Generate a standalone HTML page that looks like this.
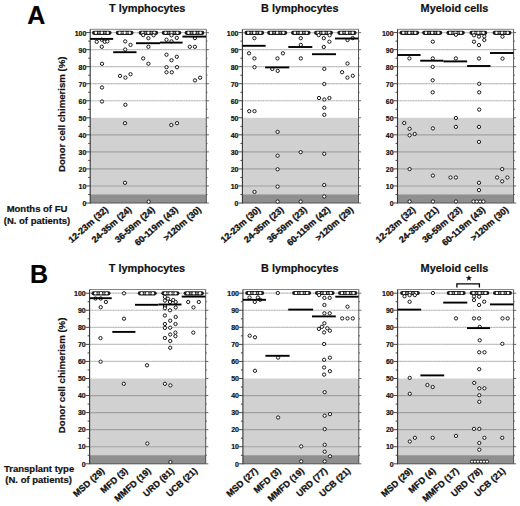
<!DOCTYPE html>
<html><head><meta charset="utf-8"><style>
html,body{margin:0;padding:0;background:#fff;}
svg{display:block;}
text{font-family:"Liberation Sans",sans-serif;font-weight:bold;fill:#111;stroke:#111;stroke-width:0.2px;}
.tk{font-size:7.0px;text-anchor:end;}
.ti{font-size:10.9px;}
.big{font-size:25px;fill:#000;}
.yl{font-size:9.5px;text-anchor:middle;}
.yr{font-size:9.65px;text-anchor:middle;}
.xl{font-size:9.0px;text-anchor:end;stroke-width:0.3px;}
.star{font-size:11px;text-anchor:middle;}
circle{fill:#fff;stroke:#1a1a1a;stroke-width:1.0;}
.ws{stroke:none;fill:#fff;}
.gs{stroke:none;fill:#a0a0a0;}
</style></head><body>
<svg width="520" height="506" viewBox="0 0 520 506">
<rect x="90.2" y="117.8" width="116.1" height="85.2" fill="#d1d1d1"/>
<rect x="90.2" y="194.48" width="116.1" height="8.52" fill="#8f8f8f"/>
<line x1="90.2" x2="206.3" y1="185.96" y2="185.96" stroke="#a2a2a2" stroke-width="1.15"/>
<line x1="90.2" x2="206.3" y1="168.92" y2="168.92" stroke="#a2a2a2" stroke-width="1.15"/>
<line x1="90.2" x2="206.3" y1="151.88" y2="151.88" stroke="#a2a2a2" stroke-width="1.15"/>
<line x1="90.2" x2="206.3" y1="134.84" y2="134.84" stroke="#a2a2a2" stroke-width="1.15"/>
<line x1="90.2" x2="206.3" y1="100.76" y2="100.76" stroke="#cbcbcb" stroke-width="1.2"/>
<line x1="90.2" x2="206.3" y1="100.76" y2="100.76" stroke="#b4b4b4" stroke-width="1" stroke-dasharray="0.8 1.8"/>
<line x1="90.2" x2="206.3" y1="83.72" y2="83.72" stroke="#cbcbcb" stroke-width="1.2"/>
<line x1="90.2" x2="206.3" y1="83.72" y2="83.72" stroke="#b4b4b4" stroke-width="1" stroke-dasharray="0.8 1.8"/>
<line x1="90.2" x2="206.3" y1="66.68" y2="66.68" stroke="#cbcbcb" stroke-width="1.2"/>
<line x1="90.2" x2="206.3" y1="66.68" y2="66.68" stroke="#b4b4b4" stroke-width="1" stroke-dasharray="0.8 1.8"/>
<line x1="90.2" x2="206.3" y1="49.64" y2="49.64" stroke="#cbcbcb" stroke-width="1.2"/>
<line x1="90.2" x2="206.3" y1="49.64" y2="49.64" stroke="#b4b4b4" stroke-width="1" stroke-dasharray="0.8 1.8"/>
<line x1="90.2" x2="206.3" y1="32.6" y2="32.6" stroke="#cbcbcb" stroke-width="1.2"/>
<line x1="90.2" x2="206.3" y1="32.6" y2="32.6" stroke="#b4b4b4" stroke-width="1" stroke-dasharray="0.8 1.8"/>
<line x1="90.2" x2="206.3" y1="29.3" y2="29.3" stroke="#666" stroke-width="0.8"/>
<line x1="206.3" x2="206.3" y1="29.3" y2="203" stroke="#444" stroke-width="0.9"/>
<line x1="90.2" x2="206.3" y1="203" y2="203" stroke="#555" stroke-width="1"/>
<line x1="90.2" x2="90.2" y1="29.3" y2="203.5" stroke="#333" stroke-width="1.1"/>
<line x1="86.2" x2="90.2" y1="203" y2="203" stroke="#333" stroke-width="0.9"/>
<line x1="206.3" x2="208.9" y1="203" y2="203" stroke="#444" stroke-width="0.8"/>
<text transform="translate(86.3,206.2) scale(1,1.09)" class="tk">0</text>
<line x1="88.2" x2="90.2" y1="194.48" y2="194.48" stroke="#333" stroke-width="0.9"/>
<line x1="206.3" x2="207.5" y1="194.48" y2="194.48" stroke="#444" stroke-width="0.8"/>
<line x1="86.2" x2="90.2" y1="185.96" y2="185.96" stroke="#333" stroke-width="0.9"/>
<line x1="206.3" x2="208.9" y1="185.96" y2="185.96" stroke="#444" stroke-width="0.8"/>
<text transform="translate(86.3,189.16) scale(1,1.09)" class="tk">10</text>
<line x1="88.2" x2="90.2" y1="177.44" y2="177.44" stroke="#333" stroke-width="0.9"/>
<line x1="206.3" x2="207.5" y1="177.44" y2="177.44" stroke="#444" stroke-width="0.8"/>
<line x1="86.2" x2="90.2" y1="168.92" y2="168.92" stroke="#333" stroke-width="0.9"/>
<line x1="206.3" x2="208.9" y1="168.92" y2="168.92" stroke="#444" stroke-width="0.8"/>
<text transform="translate(86.3,172.12) scale(1,1.09)" class="tk">20</text>
<line x1="88.2" x2="90.2" y1="160.4" y2="160.4" stroke="#333" stroke-width="0.9"/>
<line x1="206.3" x2="207.5" y1="160.4" y2="160.4" stroke="#444" stroke-width="0.8"/>
<line x1="86.2" x2="90.2" y1="151.88" y2="151.88" stroke="#333" stroke-width="0.9"/>
<line x1="206.3" x2="208.9" y1="151.88" y2="151.88" stroke="#444" stroke-width="0.8"/>
<text transform="translate(86.3,155.08) scale(1,1.09)" class="tk">30</text>
<line x1="88.2" x2="90.2" y1="143.36" y2="143.36" stroke="#333" stroke-width="0.9"/>
<line x1="206.3" x2="207.5" y1="143.36" y2="143.36" stroke="#444" stroke-width="0.8"/>
<line x1="86.2" x2="90.2" y1="134.84" y2="134.84" stroke="#333" stroke-width="0.9"/>
<line x1="206.3" x2="208.9" y1="134.84" y2="134.84" stroke="#444" stroke-width="0.8"/>
<text transform="translate(86.3,138.04) scale(1,1.09)" class="tk">40</text>
<line x1="88.2" x2="90.2" y1="126.32" y2="126.32" stroke="#333" stroke-width="0.9"/>
<line x1="206.3" x2="207.5" y1="126.32" y2="126.32" stroke="#444" stroke-width="0.8"/>
<line x1="86.2" x2="90.2" y1="117.8" y2="117.8" stroke="#333" stroke-width="0.9"/>
<line x1="206.3" x2="208.9" y1="117.8" y2="117.8" stroke="#444" stroke-width="0.8"/>
<text transform="translate(86.3,121) scale(1,1.09)" class="tk">50</text>
<line x1="88.2" x2="90.2" y1="109.28" y2="109.28" stroke="#333" stroke-width="0.9"/>
<line x1="206.3" x2="207.5" y1="109.28" y2="109.28" stroke="#444" stroke-width="0.8"/>
<line x1="86.2" x2="90.2" y1="100.76" y2="100.76" stroke="#333" stroke-width="0.9"/>
<line x1="206.3" x2="208.9" y1="100.76" y2="100.76" stroke="#444" stroke-width="0.8"/>
<text transform="translate(86.3,103.96) scale(1,1.09)" class="tk">60</text>
<line x1="88.2" x2="90.2" y1="92.24" y2="92.24" stroke="#333" stroke-width="0.9"/>
<line x1="206.3" x2="207.5" y1="92.24" y2="92.24" stroke="#444" stroke-width="0.8"/>
<line x1="86.2" x2="90.2" y1="83.72" y2="83.72" stroke="#333" stroke-width="0.9"/>
<line x1="206.3" x2="208.9" y1="83.72" y2="83.72" stroke="#444" stroke-width="0.8"/>
<text transform="translate(86.3,86.92) scale(1,1.09)" class="tk">70</text>
<line x1="88.2" x2="90.2" y1="75.2" y2="75.2" stroke="#333" stroke-width="0.9"/>
<line x1="206.3" x2="207.5" y1="75.2" y2="75.2" stroke="#444" stroke-width="0.8"/>
<line x1="86.2" x2="90.2" y1="66.68" y2="66.68" stroke="#333" stroke-width="0.9"/>
<line x1="206.3" x2="208.9" y1="66.68" y2="66.68" stroke="#444" stroke-width="0.8"/>
<text transform="translate(86.3,69.88) scale(1,1.09)" class="tk">80</text>
<line x1="88.2" x2="90.2" y1="58.16" y2="58.16" stroke="#333" stroke-width="0.9"/>
<line x1="206.3" x2="207.5" y1="58.16" y2="58.16" stroke="#444" stroke-width="0.8"/>
<line x1="86.2" x2="90.2" y1="49.64" y2="49.64" stroke="#333" stroke-width="0.9"/>
<line x1="206.3" x2="208.9" y1="49.64" y2="49.64" stroke="#444" stroke-width="0.8"/>
<text transform="translate(86.3,52.84) scale(1,1.09)" class="tk">90</text>
<line x1="88.2" x2="90.2" y1="41.12" y2="41.12" stroke="#333" stroke-width="0.9"/>
<line x1="206.3" x2="207.5" y1="41.12" y2="41.12" stroke="#444" stroke-width="0.8"/>
<line x1="86.2" x2="90.2" y1="32.6" y2="32.6" stroke="#333" stroke-width="0.9"/>
<line x1="206.3" x2="208.9" y1="32.6" y2="32.6" stroke="#444" stroke-width="0.8"/>
<text transform="translate(86.3,35.8) scale(1,1.09)" class="tk">100</text>
<rect x="92" y="30.7" width="19.6" height="4.2" rx="2.1" fill="#1c1c1c"/>
<circle cx="95.9" cy="32.8" r="1.3" class="ws"/>
<circle cx="101.8" cy="32.8" r="1.3" class="ws"/>
<circle cx="107.7" cy="32.8" r="1.3" class="ws"/>
<circle cx="98.85" cy="32.8" r="1.0" class="gs"/>
<circle cx="104.75" cy="32.8" r="1.0" class="gs"/>
<rect x="115.7" y="30.7" width="17.9" height="4.2" rx="2.1" fill="#1c1c1c"/>
<circle cx="119.6" cy="32.8" r="1.3" class="ws"/>
<circle cx="124.65" cy="32.8" r="1.3" class="ws"/>
<circle cx="129.7" cy="32.8" r="1.3" class="ws"/>
<circle cx="122.12" cy="32.8" r="1.0" class="gs"/>
<circle cx="127.17" cy="32.8" r="1.0" class="gs"/>
<rect x="138.6" y="30.7" width="19.6" height="4.2" rx="2.1" fill="#1c1c1c"/>
<circle cx="142.5" cy="32.8" r="1.3" class="ws"/>
<circle cx="148.4" cy="32.8" r="1.3" class="ws"/>
<circle cx="154.3" cy="32.8" r="1.3" class="ws"/>
<circle cx="145.45" cy="32.8" r="1.0" class="gs"/>
<circle cx="151.35" cy="32.8" r="1.0" class="gs"/>
<rect x="161.7" y="30.7" width="19.6" height="4.2" rx="2.1" fill="#1c1c1c"/>
<circle cx="165.6" cy="32.8" r="1.3" class="ws"/>
<circle cx="171.5" cy="32.8" r="1.3" class="ws"/>
<circle cx="177.4" cy="32.8" r="1.3" class="ws"/>
<circle cx="168.55" cy="32.8" r="1.0" class="gs"/>
<circle cx="174.45" cy="32.8" r="1.0" class="gs"/>
<rect x="184.6" y="30.7" width="19.8" height="4.2" rx="2.1" fill="#1c1c1c"/>
<circle cx="188.5" cy="32.8" r="1.3" class="ws"/>
<circle cx="194.5" cy="32.8" r="1.3" class="ws"/>
<circle cx="200.5" cy="32.8" r="1.3" class="ws"/>
<circle cx="191.5" cy="32.8" r="1.0" class="gs"/>
<circle cx="197.5" cy="32.8" r="1.0" class="gs"/>
<circle cx="96.7" cy="41.8" r="1.65"/>
<circle cx="101.8" cy="39.7" r="1.65"/>
<circle cx="104.7" cy="41.8" r="1.65"/>
<circle cx="107.4" cy="41.4" r="1.65"/>
<circle cx="101.8" cy="46.8" r="1.65"/>
<circle cx="102" cy="63.8" r="1.65"/>
<circle cx="102" cy="87.5" r="1.65"/>
<circle cx="102" cy="101.5" r="1.65"/>
<circle cx="125.2" cy="41.4" r="1.65"/>
<circle cx="130.5" cy="44.9" r="1.65"/>
<circle cx="125.2" cy="49.5" r="1.65"/>
<circle cx="120" cy="75.9" r="1.65"/>
<circle cx="125.4" cy="77.6" r="1.65"/>
<circle cx="130.5" cy="74.2" r="1.65"/>
<circle cx="125.4" cy="104.8" r="1.65"/>
<circle cx="125" cy="123.2" r="1.65"/>
<circle cx="125" cy="182.8" r="1.65"/>
<circle cx="143.2" cy="35.1" r="1.65"/>
<circle cx="153.6" cy="35.3" r="1.65"/>
<circle cx="148.4" cy="38.2" r="1.65"/>
<circle cx="148.4" cy="46.8" r="1.65"/>
<circle cx="143.2" cy="58.4" r="1.65"/>
<circle cx="148.4" cy="63.7" r="1.65"/>
<circle cx="148.7" cy="201.7" r="1.65"/>
<circle cx="171.5" cy="35.3" r="1.65"/>
<circle cx="176.8" cy="37.9" r="1.65"/>
<circle cx="166.5" cy="39.7" r="1.65"/>
<circle cx="171.5" cy="41.4" r="1.65"/>
<circle cx="166.5" cy="54.7" r="1.65"/>
<circle cx="176.8" cy="56.8" r="1.65"/>
<circle cx="171.5" cy="60.2" r="1.65"/>
<circle cx="166.5" cy="67.2" r="1.65"/>
<circle cx="177" cy="67.2" r="1.65"/>
<circle cx="166.5" cy="72.3" r="1.65"/>
<circle cx="171.8" cy="72.3" r="1.65"/>
<circle cx="171.3" cy="125" r="1.65"/>
<circle cx="177" cy="123.2" r="1.65"/>
<circle cx="194.9" cy="38.1" r="1.65"/>
<circle cx="189.8" cy="46.8" r="1.65"/>
<circle cx="194.9" cy="46.8" r="1.65"/>
<circle cx="195" cy="80.4" r="1.65"/>
<circle cx="200.1" cy="77.7" r="1.65"/>
<line x1="90.2" x2="113.2" y1="38.9" y2="38.9" stroke="#000" stroke-width="1.9"/>
<line x1="113.2" x2="136.5" y1="52.2" y2="52.2" stroke="#000" stroke-width="1.9"/>
<line x1="136" x2="160" y1="43.2" y2="43.2" stroke="#000" stroke-width="1.9"/>
<line x1="160" x2="182.6" y1="42.6" y2="42.6" stroke="#000" stroke-width="1.9"/>
<line x1="182.4" x2="206" y1="36.6" y2="36.6" stroke="#000" stroke-width="1.9"/>
<rect x="242.4" y="117.8" width="116.1" height="85.2" fill="#d1d1d1"/>
<rect x="242.4" y="194.48" width="116.1" height="8.52" fill="#8f8f8f"/>
<line x1="242.4" x2="358.5" y1="185.96" y2="185.96" stroke="#a2a2a2" stroke-width="1.15"/>
<line x1="242.4" x2="358.5" y1="168.92" y2="168.92" stroke="#a2a2a2" stroke-width="1.15"/>
<line x1="242.4" x2="358.5" y1="151.88" y2="151.88" stroke="#a2a2a2" stroke-width="1.15"/>
<line x1="242.4" x2="358.5" y1="134.84" y2="134.84" stroke="#a2a2a2" stroke-width="1.15"/>
<line x1="242.4" x2="358.5" y1="100.76" y2="100.76" stroke="#cbcbcb" stroke-width="1.2"/>
<line x1="242.4" x2="358.5" y1="100.76" y2="100.76" stroke="#b4b4b4" stroke-width="1" stroke-dasharray="0.8 1.8"/>
<line x1="242.4" x2="358.5" y1="83.72" y2="83.72" stroke="#cbcbcb" stroke-width="1.2"/>
<line x1="242.4" x2="358.5" y1="83.72" y2="83.72" stroke="#b4b4b4" stroke-width="1" stroke-dasharray="0.8 1.8"/>
<line x1="242.4" x2="358.5" y1="66.68" y2="66.68" stroke="#cbcbcb" stroke-width="1.2"/>
<line x1="242.4" x2="358.5" y1="66.68" y2="66.68" stroke="#b4b4b4" stroke-width="1" stroke-dasharray="0.8 1.8"/>
<line x1="242.4" x2="358.5" y1="49.64" y2="49.64" stroke="#cbcbcb" stroke-width="1.2"/>
<line x1="242.4" x2="358.5" y1="49.64" y2="49.64" stroke="#b4b4b4" stroke-width="1" stroke-dasharray="0.8 1.8"/>
<line x1="242.4" x2="358.5" y1="32.6" y2="32.6" stroke="#cbcbcb" stroke-width="1.2"/>
<line x1="242.4" x2="358.5" y1="32.6" y2="32.6" stroke="#b4b4b4" stroke-width="1" stroke-dasharray="0.8 1.8"/>
<line x1="242.4" x2="358.5" y1="29.3" y2="29.3" stroke="#666" stroke-width="0.8"/>
<line x1="358.5" x2="358.5" y1="29.3" y2="203" stroke="#444" stroke-width="0.9"/>
<line x1="242.4" x2="358.5" y1="203" y2="203" stroke="#555" stroke-width="1"/>
<line x1="242.4" x2="242.4" y1="29.3" y2="203.5" stroke="#333" stroke-width="1.1"/>
<line x1="238.4" x2="242.4" y1="203" y2="203" stroke="#333" stroke-width="0.9"/>
<line x1="358.5" x2="361.1" y1="203" y2="203" stroke="#444" stroke-width="0.8"/>
<text transform="translate(238.5,206.2) scale(1,1.09)" class="tk">0</text>
<line x1="240.4" x2="242.4" y1="194.48" y2="194.48" stroke="#333" stroke-width="0.9"/>
<line x1="358.5" x2="359.7" y1="194.48" y2="194.48" stroke="#444" stroke-width="0.8"/>
<line x1="238.4" x2="242.4" y1="185.96" y2="185.96" stroke="#333" stroke-width="0.9"/>
<line x1="358.5" x2="361.1" y1="185.96" y2="185.96" stroke="#444" stroke-width="0.8"/>
<text transform="translate(238.5,189.16) scale(1,1.09)" class="tk">10</text>
<line x1="240.4" x2="242.4" y1="177.44" y2="177.44" stroke="#333" stroke-width="0.9"/>
<line x1="358.5" x2="359.7" y1="177.44" y2="177.44" stroke="#444" stroke-width="0.8"/>
<line x1="238.4" x2="242.4" y1="168.92" y2="168.92" stroke="#333" stroke-width="0.9"/>
<line x1="358.5" x2="361.1" y1="168.92" y2="168.92" stroke="#444" stroke-width="0.8"/>
<text transform="translate(238.5,172.12) scale(1,1.09)" class="tk">20</text>
<line x1="240.4" x2="242.4" y1="160.4" y2="160.4" stroke="#333" stroke-width="0.9"/>
<line x1="358.5" x2="359.7" y1="160.4" y2="160.4" stroke="#444" stroke-width="0.8"/>
<line x1="238.4" x2="242.4" y1="151.88" y2="151.88" stroke="#333" stroke-width="0.9"/>
<line x1="358.5" x2="361.1" y1="151.88" y2="151.88" stroke="#444" stroke-width="0.8"/>
<text transform="translate(238.5,155.08) scale(1,1.09)" class="tk">30</text>
<line x1="240.4" x2="242.4" y1="143.36" y2="143.36" stroke="#333" stroke-width="0.9"/>
<line x1="358.5" x2="359.7" y1="143.36" y2="143.36" stroke="#444" stroke-width="0.8"/>
<line x1="238.4" x2="242.4" y1="134.84" y2="134.84" stroke="#333" stroke-width="0.9"/>
<line x1="358.5" x2="361.1" y1="134.84" y2="134.84" stroke="#444" stroke-width="0.8"/>
<text transform="translate(238.5,138.04) scale(1,1.09)" class="tk">40</text>
<line x1="240.4" x2="242.4" y1="126.32" y2="126.32" stroke="#333" stroke-width="0.9"/>
<line x1="358.5" x2="359.7" y1="126.32" y2="126.32" stroke="#444" stroke-width="0.8"/>
<line x1="238.4" x2="242.4" y1="117.8" y2="117.8" stroke="#333" stroke-width="0.9"/>
<line x1="358.5" x2="361.1" y1="117.8" y2="117.8" stroke="#444" stroke-width="0.8"/>
<text transform="translate(238.5,121) scale(1,1.09)" class="tk">50</text>
<line x1="240.4" x2="242.4" y1="109.28" y2="109.28" stroke="#333" stroke-width="0.9"/>
<line x1="358.5" x2="359.7" y1="109.28" y2="109.28" stroke="#444" stroke-width="0.8"/>
<line x1="238.4" x2="242.4" y1="100.76" y2="100.76" stroke="#333" stroke-width="0.9"/>
<line x1="358.5" x2="361.1" y1="100.76" y2="100.76" stroke="#444" stroke-width="0.8"/>
<text transform="translate(238.5,103.96) scale(1,1.09)" class="tk">60</text>
<line x1="240.4" x2="242.4" y1="92.24" y2="92.24" stroke="#333" stroke-width="0.9"/>
<line x1="358.5" x2="359.7" y1="92.24" y2="92.24" stroke="#444" stroke-width="0.8"/>
<line x1="238.4" x2="242.4" y1="83.72" y2="83.72" stroke="#333" stroke-width="0.9"/>
<line x1="358.5" x2="361.1" y1="83.72" y2="83.72" stroke="#444" stroke-width="0.8"/>
<text transform="translate(238.5,86.92) scale(1,1.09)" class="tk">70</text>
<line x1="240.4" x2="242.4" y1="75.2" y2="75.2" stroke="#333" stroke-width="0.9"/>
<line x1="358.5" x2="359.7" y1="75.2" y2="75.2" stroke="#444" stroke-width="0.8"/>
<line x1="238.4" x2="242.4" y1="66.68" y2="66.68" stroke="#333" stroke-width="0.9"/>
<line x1="358.5" x2="361.1" y1="66.68" y2="66.68" stroke="#444" stroke-width="0.8"/>
<text transform="translate(238.5,69.88) scale(1,1.09)" class="tk">80</text>
<line x1="240.4" x2="242.4" y1="58.16" y2="58.16" stroke="#333" stroke-width="0.9"/>
<line x1="358.5" x2="359.7" y1="58.16" y2="58.16" stroke="#444" stroke-width="0.8"/>
<line x1="238.4" x2="242.4" y1="49.64" y2="49.64" stroke="#333" stroke-width="0.9"/>
<line x1="358.5" x2="361.1" y1="49.64" y2="49.64" stroke="#444" stroke-width="0.8"/>
<text transform="translate(238.5,52.84) scale(1,1.09)" class="tk">90</text>
<line x1="240.4" x2="242.4" y1="41.12" y2="41.12" stroke="#333" stroke-width="0.9"/>
<line x1="358.5" x2="359.7" y1="41.12" y2="41.12" stroke="#444" stroke-width="0.8"/>
<line x1="238.4" x2="242.4" y1="32.6" y2="32.6" stroke="#333" stroke-width="0.9"/>
<line x1="358.5" x2="361.1" y1="32.6" y2="32.6" stroke="#444" stroke-width="0.8"/>
<text transform="translate(238.5,35.8) scale(1,1.09)" class="tk">100</text>
<rect x="244.4" y="30.7" width="19.8" height="4.2" rx="2.1" fill="#1c1c1c"/>
<circle cx="248.3" cy="32.8" r="1.3" class="ws"/>
<circle cx="254.3" cy="32.8" r="1.3" class="ws"/>
<circle cx="260.3" cy="32.8" r="1.3" class="ws"/>
<circle cx="251.3" cy="32.8" r="1.0" class="gs"/>
<circle cx="257.3" cy="32.8" r="1.0" class="gs"/>
<rect x="267.1" y="30.7" width="20.2" height="4.2" rx="2.1" fill="#1c1c1c"/>
<circle cx="271" cy="32.8" r="1.3" class="ws"/>
<circle cx="277.2" cy="32.8" r="1.3" class="ws"/>
<circle cx="283.4" cy="32.8" r="1.3" class="ws"/>
<circle cx="274.1" cy="32.8" r="1.0" class="gs"/>
<circle cx="280.3" cy="32.8" r="1.0" class="gs"/>
<rect x="291" y="30.7" width="19.6" height="4.2" rx="2.1" fill="#1c1c1c"/>
<circle cx="294.9" cy="32.8" r="1.3" class="ws"/>
<circle cx="300.8" cy="32.8" r="1.3" class="ws"/>
<circle cx="306.7" cy="32.8" r="1.3" class="ws"/>
<circle cx="297.85" cy="32.8" r="1.0" class="gs"/>
<circle cx="303.75" cy="32.8" r="1.0" class="gs"/>
<rect x="314" y="30.7" width="19" height="4.2" rx="2.1" fill="#1c1c1c"/>
<circle cx="317.9" cy="32.8" r="1.3" class="ws"/>
<circle cx="323.5" cy="32.8" r="1.3" class="ws"/>
<circle cx="329.1" cy="32.8" r="1.3" class="ws"/>
<circle cx="320.7" cy="32.8" r="1.0" class="gs"/>
<circle cx="326.3" cy="32.8" r="1.0" class="gs"/>
<rect x="337.3" y="30.7" width="19.3" height="4.2" rx="2.1" fill="#1c1c1c"/>
<circle cx="341.2" cy="32.8" r="1.3" class="ws"/>
<circle cx="346.95" cy="32.8" r="1.3" class="ws"/>
<circle cx="352.7" cy="32.8" r="1.3" class="ws"/>
<circle cx="344.08" cy="32.8" r="1.0" class="gs"/>
<circle cx="349.83" cy="32.8" r="1.0" class="gs"/>
<circle cx="254.4" cy="38.2" r="1.65"/>
<circle cx="249" cy="53.3" r="1.65"/>
<circle cx="254.4" cy="58.4" r="1.65"/>
<circle cx="254.5" cy="67.2" r="1.65"/>
<circle cx="249.2" cy="111.2" r="1.65"/>
<circle cx="254.5" cy="111.2" r="1.65"/>
<circle cx="254.5" cy="191.9" r="1.65"/>
<circle cx="282.9" cy="53.3" r="1.65"/>
<circle cx="277.5" cy="58.4" r="1.65"/>
<circle cx="272.3" cy="68.9" r="1.65"/>
<circle cx="277.7" cy="70.9" r="1.65"/>
<circle cx="277.6" cy="131.9" r="1.65"/>
<circle cx="277.6" cy="155.7" r="1.65"/>
<circle cx="277.6" cy="169.3" r="1.65"/>
<circle cx="277.6" cy="186.6" r="1.65"/>
<circle cx="277.6" cy="201.6" r="1.65"/>
<circle cx="300.8" cy="38.2" r="1.65"/>
<circle cx="300.8" cy="44.9" r="1.65"/>
<circle cx="300.8" cy="58.4" r="1.65"/>
<circle cx="300.7" cy="152.2" r="1.65"/>
<circle cx="300.7" cy="201.6" r="1.65"/>
<circle cx="318.7" cy="35.1" r="1.65"/>
<circle cx="329.6" cy="35.3" r="1.65"/>
<circle cx="323.8" cy="38.2" r="1.65"/>
<circle cx="329.4" cy="41.7" r="1.65"/>
<circle cx="323.8" cy="47" r="1.65"/>
<circle cx="324.3" cy="68.9" r="1.65"/>
<circle cx="324.3" cy="84" r="1.65"/>
<circle cx="319" cy="98" r="1.65"/>
<circle cx="324.3" cy="99.5" r="1.65"/>
<circle cx="329.4" cy="98" r="1.65"/>
<circle cx="324.3" cy="107.8" r="1.65"/>
<circle cx="324.3" cy="114.8" r="1.65"/>
<circle cx="324.2" cy="153.8" r="1.65"/>
<circle cx="324.2" cy="185" r="1.65"/>
<circle cx="324.2" cy="196.5" r="1.65"/>
<circle cx="352.7" cy="38.1" r="1.65"/>
<circle cx="347.5" cy="40" r="1.65"/>
<circle cx="347.5" cy="63.5" r="1.65"/>
<circle cx="342.1" cy="72.2" r="1.65"/>
<circle cx="352.8" cy="75.8" r="1.65"/>
<circle cx="347.4" cy="77.6" r="1.65"/>
<line x1="242.4" x2="265.6" y1="45.8" y2="45.8" stroke="#000" stroke-width="1.9"/>
<line x1="265.1" x2="289.2" y1="67.4" y2="67.4" stroke="#000" stroke-width="1.9"/>
<line x1="288.3" x2="312.3" y1="47" y2="47" stroke="#000" stroke-width="1.9"/>
<line x1="312" x2="336" y1="54.2" y2="54.2" stroke="#000" stroke-width="1.9"/>
<line x1="335" x2="358.3" y1="38.5" y2="38.5" stroke="#000" stroke-width="1.9"/>
<rect x="397.5" y="117.8" width="116.1" height="85.2" fill="#d1d1d1"/>
<rect x="397.5" y="194.48" width="116.1" height="8.52" fill="#8f8f8f"/>
<line x1="397.5" x2="513.6" y1="185.96" y2="185.96" stroke="#a2a2a2" stroke-width="1.15"/>
<line x1="397.5" x2="513.6" y1="168.92" y2="168.92" stroke="#a2a2a2" stroke-width="1.15"/>
<line x1="397.5" x2="513.6" y1="151.88" y2="151.88" stroke="#a2a2a2" stroke-width="1.15"/>
<line x1="397.5" x2="513.6" y1="134.84" y2="134.84" stroke="#a2a2a2" stroke-width="1.15"/>
<line x1="397.5" x2="513.6" y1="100.76" y2="100.76" stroke="#cbcbcb" stroke-width="1.2"/>
<line x1="397.5" x2="513.6" y1="100.76" y2="100.76" stroke="#b4b4b4" stroke-width="1" stroke-dasharray="0.8 1.8"/>
<line x1="397.5" x2="513.6" y1="83.72" y2="83.72" stroke="#cbcbcb" stroke-width="1.2"/>
<line x1="397.5" x2="513.6" y1="83.72" y2="83.72" stroke="#b4b4b4" stroke-width="1" stroke-dasharray="0.8 1.8"/>
<line x1="397.5" x2="513.6" y1="66.68" y2="66.68" stroke="#cbcbcb" stroke-width="1.2"/>
<line x1="397.5" x2="513.6" y1="66.68" y2="66.68" stroke="#b4b4b4" stroke-width="1" stroke-dasharray="0.8 1.8"/>
<line x1="397.5" x2="513.6" y1="49.64" y2="49.64" stroke="#cbcbcb" stroke-width="1.2"/>
<line x1="397.5" x2="513.6" y1="49.64" y2="49.64" stroke="#b4b4b4" stroke-width="1" stroke-dasharray="0.8 1.8"/>
<line x1="397.5" x2="513.6" y1="32.6" y2="32.6" stroke="#cbcbcb" stroke-width="1.2"/>
<line x1="397.5" x2="513.6" y1="32.6" y2="32.6" stroke="#b4b4b4" stroke-width="1" stroke-dasharray="0.8 1.8"/>
<line x1="397.5" x2="513.6" y1="29.3" y2="29.3" stroke="#666" stroke-width="0.8"/>
<line x1="513.6" x2="513.6" y1="29.3" y2="203" stroke="#444" stroke-width="0.9"/>
<line x1="397.5" x2="513.6" y1="203" y2="203" stroke="#555" stroke-width="1"/>
<line x1="397.5" x2="397.5" y1="29.3" y2="203.5" stroke="#333" stroke-width="1.1"/>
<line x1="393.5" x2="397.5" y1="203" y2="203" stroke="#333" stroke-width="0.9"/>
<line x1="513.6" x2="516.2" y1="203" y2="203" stroke="#444" stroke-width="0.8"/>
<text transform="translate(393.6,206.2) scale(1,1.09)" class="tk">0</text>
<line x1="395.5" x2="397.5" y1="194.48" y2="194.48" stroke="#333" stroke-width="0.9"/>
<line x1="513.6" x2="514.8" y1="194.48" y2="194.48" stroke="#444" stroke-width="0.8"/>
<line x1="393.5" x2="397.5" y1="185.96" y2="185.96" stroke="#333" stroke-width="0.9"/>
<line x1="513.6" x2="516.2" y1="185.96" y2="185.96" stroke="#444" stroke-width="0.8"/>
<text transform="translate(393.6,189.16) scale(1,1.09)" class="tk">10</text>
<line x1="395.5" x2="397.5" y1="177.44" y2="177.44" stroke="#333" stroke-width="0.9"/>
<line x1="513.6" x2="514.8" y1="177.44" y2="177.44" stroke="#444" stroke-width="0.8"/>
<line x1="393.5" x2="397.5" y1="168.92" y2="168.92" stroke="#333" stroke-width="0.9"/>
<line x1="513.6" x2="516.2" y1="168.92" y2="168.92" stroke="#444" stroke-width="0.8"/>
<text transform="translate(393.6,172.12) scale(1,1.09)" class="tk">20</text>
<line x1="395.5" x2="397.5" y1="160.4" y2="160.4" stroke="#333" stroke-width="0.9"/>
<line x1="513.6" x2="514.8" y1="160.4" y2="160.4" stroke="#444" stroke-width="0.8"/>
<line x1="393.5" x2="397.5" y1="151.88" y2="151.88" stroke="#333" stroke-width="0.9"/>
<line x1="513.6" x2="516.2" y1="151.88" y2="151.88" stroke="#444" stroke-width="0.8"/>
<text transform="translate(393.6,155.08) scale(1,1.09)" class="tk">30</text>
<line x1="395.5" x2="397.5" y1="143.36" y2="143.36" stroke="#333" stroke-width="0.9"/>
<line x1="513.6" x2="514.8" y1="143.36" y2="143.36" stroke="#444" stroke-width="0.8"/>
<line x1="393.5" x2="397.5" y1="134.84" y2="134.84" stroke="#333" stroke-width="0.9"/>
<line x1="513.6" x2="516.2" y1="134.84" y2="134.84" stroke="#444" stroke-width="0.8"/>
<text transform="translate(393.6,138.04) scale(1,1.09)" class="tk">40</text>
<line x1="395.5" x2="397.5" y1="126.32" y2="126.32" stroke="#333" stroke-width="0.9"/>
<line x1="513.6" x2="514.8" y1="126.32" y2="126.32" stroke="#444" stroke-width="0.8"/>
<line x1="393.5" x2="397.5" y1="117.8" y2="117.8" stroke="#333" stroke-width="0.9"/>
<line x1="513.6" x2="516.2" y1="117.8" y2="117.8" stroke="#444" stroke-width="0.8"/>
<text transform="translate(393.6,121) scale(1,1.09)" class="tk">50</text>
<line x1="395.5" x2="397.5" y1="109.28" y2="109.28" stroke="#333" stroke-width="0.9"/>
<line x1="513.6" x2="514.8" y1="109.28" y2="109.28" stroke="#444" stroke-width="0.8"/>
<line x1="393.5" x2="397.5" y1="100.76" y2="100.76" stroke="#333" stroke-width="0.9"/>
<line x1="513.6" x2="516.2" y1="100.76" y2="100.76" stroke="#444" stroke-width="0.8"/>
<text transform="translate(393.6,103.96) scale(1,1.09)" class="tk">60</text>
<line x1="395.5" x2="397.5" y1="92.24" y2="92.24" stroke="#333" stroke-width="0.9"/>
<line x1="513.6" x2="514.8" y1="92.24" y2="92.24" stroke="#444" stroke-width="0.8"/>
<line x1="393.5" x2="397.5" y1="83.72" y2="83.72" stroke="#333" stroke-width="0.9"/>
<line x1="513.6" x2="516.2" y1="83.72" y2="83.72" stroke="#444" stroke-width="0.8"/>
<text transform="translate(393.6,86.92) scale(1,1.09)" class="tk">70</text>
<line x1="395.5" x2="397.5" y1="75.2" y2="75.2" stroke="#333" stroke-width="0.9"/>
<line x1="513.6" x2="514.8" y1="75.2" y2="75.2" stroke="#444" stroke-width="0.8"/>
<line x1="393.5" x2="397.5" y1="66.68" y2="66.68" stroke="#333" stroke-width="0.9"/>
<line x1="513.6" x2="516.2" y1="66.68" y2="66.68" stroke="#444" stroke-width="0.8"/>
<text transform="translate(393.6,69.88) scale(1,1.09)" class="tk">80</text>
<line x1="395.5" x2="397.5" y1="58.16" y2="58.16" stroke="#333" stroke-width="0.9"/>
<line x1="513.6" x2="514.8" y1="58.16" y2="58.16" stroke="#444" stroke-width="0.8"/>
<line x1="393.5" x2="397.5" y1="49.64" y2="49.64" stroke="#333" stroke-width="0.9"/>
<line x1="513.6" x2="516.2" y1="49.64" y2="49.64" stroke="#444" stroke-width="0.8"/>
<text transform="translate(393.6,52.84) scale(1,1.09)" class="tk">90</text>
<line x1="395.5" x2="397.5" y1="41.12" y2="41.12" stroke="#333" stroke-width="0.9"/>
<line x1="513.6" x2="514.8" y1="41.12" y2="41.12" stroke="#444" stroke-width="0.8"/>
<line x1="393.5" x2="397.5" y1="32.6" y2="32.6" stroke="#333" stroke-width="0.9"/>
<line x1="513.6" x2="516.2" y1="32.6" y2="32.6" stroke="#444" stroke-width="0.8"/>
<text transform="translate(393.6,35.8) scale(1,1.09)" class="tk">100</text>
<rect x="399.4" y="30.7" width="19.8" height="4.2" rx="2.1" fill="#1c1c1c"/>
<circle cx="403.3" cy="32.8" r="1.3" class="ws"/>
<circle cx="409.3" cy="32.8" r="1.3" class="ws"/>
<circle cx="415.3" cy="32.8" r="1.3" class="ws"/>
<circle cx="406.3" cy="32.8" r="1.0" class="gs"/>
<circle cx="412.3" cy="32.8" r="1.0" class="gs"/>
<rect x="422.1" y="30.7" width="20.2" height="4.2" rx="2.1" fill="#1c1c1c"/>
<circle cx="426" cy="32.8" r="1.3" class="ws"/>
<circle cx="432.2" cy="32.8" r="1.3" class="ws"/>
<circle cx="438.4" cy="32.8" r="1.3" class="ws"/>
<circle cx="429.1" cy="32.8" r="1.0" class="gs"/>
<circle cx="435.3" cy="32.8" r="1.0" class="gs"/>
<rect x="446.3" y="30.7" width="18.5" height="4.2" rx="2.1" fill="#1c1c1c"/>
<circle cx="450.2" cy="32.8" r="1.3" class="ws"/>
<circle cx="455.55" cy="32.8" r="1.3" class="ws"/>
<circle cx="460.9" cy="32.8" r="1.3" class="ws"/>
<circle cx="452.88" cy="32.8" r="1.0" class="gs"/>
<circle cx="458.23" cy="32.8" r="1.0" class="gs"/>
<rect x="469.4" y="30.7" width="17.9" height="4.2" rx="2.1" fill="#1c1c1c"/>
<circle cx="473.3" cy="32.8" r="1.3" class="ws"/>
<circle cx="478.35" cy="32.8" r="1.3" class="ws"/>
<circle cx="483.4" cy="32.8" r="1.3" class="ws"/>
<circle cx="475.82" cy="32.8" r="1.0" class="gs"/>
<circle cx="480.88" cy="32.8" r="1.0" class="gs"/>
<rect x="492.6" y="30.7" width="19" height="4.2" rx="2.1" fill="#1c1c1c"/>
<circle cx="496.5" cy="32.8" r="1.3" class="ws"/>
<circle cx="502.1" cy="32.8" r="1.3" class="ws"/>
<circle cx="507.7" cy="32.8" r="1.3" class="ws"/>
<circle cx="499.3" cy="32.8" r="1.0" class="gs"/>
<circle cx="504.9" cy="32.8" r="1.0" class="gs"/>
<circle cx="409.4" cy="58.4" r="1.65"/>
<circle cx="404.2" cy="123" r="1.65"/>
<circle cx="409.6" cy="128.8" r="1.65"/>
<circle cx="409.6" cy="135.3" r="1.65"/>
<circle cx="414.7" cy="134" r="1.65"/>
<circle cx="409.6" cy="169.1" r="1.65"/>
<circle cx="409.6" cy="201.5" r="1.65"/>
<circle cx="432.8" cy="41.7" r="1.65"/>
<circle cx="432.8" cy="58.4" r="1.65"/>
<circle cx="432.7" cy="66.9" r="1.65"/>
<circle cx="432.7" cy="80.3" r="1.65"/>
<circle cx="432.7" cy="92.3" r="1.65"/>
<circle cx="432.9" cy="128.4" r="1.65"/>
<circle cx="432.9" cy="175.6" r="1.65"/>
<circle cx="432.9" cy="201.5" r="1.65"/>
<circle cx="455.9" cy="34.8" r="1.65"/>
<circle cx="455.9" cy="58.4" r="1.65"/>
<circle cx="455.9" cy="118" r="1.65"/>
<circle cx="455.9" cy="126.9" r="1.65"/>
<circle cx="450.5" cy="177.5" r="1.65"/>
<circle cx="455.9" cy="177.5" r="1.65"/>
<circle cx="455.9" cy="201.5" r="1.65"/>
<circle cx="474" cy="35.3" r="1.65"/>
<circle cx="479" cy="36.6" r="1.65"/>
<circle cx="484.3" cy="36.4" r="1.65"/>
<circle cx="484.3" cy="40" r="1.65"/>
<circle cx="474" cy="41.7" r="1.65"/>
<circle cx="479" cy="45.1" r="1.65"/>
<circle cx="479" cy="58.5" r="1.65"/>
<circle cx="479.2" cy="83.8" r="1.65"/>
<circle cx="479.2" cy="92.3" r="1.65"/>
<circle cx="479.2" cy="109.6" r="1.65"/>
<circle cx="479" cy="126.9" r="1.65"/>
<circle cx="479" cy="141.9" r="1.65"/>
<circle cx="479" cy="182.8" r="1.65"/>
<circle cx="479" cy="190.1" r="1.65"/>
<circle cx="473.5" cy="201.5" r="1.65"/>
<circle cx="476.8" cy="201.5" r="1.65"/>
<circle cx="480.1" cy="201.5" r="1.65"/>
<circle cx="483.4" cy="201.5" r="1.65"/>
<circle cx="502.5" cy="36.6" r="1.65"/>
<circle cx="502.5" cy="58.6" r="1.65"/>
<circle cx="502.2" cy="169.1" r="1.65"/>
<circle cx="497.1" cy="177.5" r="1.65"/>
<circle cx="507.4" cy="177.5" r="1.65"/>
<circle cx="502.2" cy="181.3" r="1.65"/>
<line x1="397.5" x2="420.6" y1="55" y2="55" stroke="#000" stroke-width="1.9"/>
<line x1="420.2" x2="443.5" y1="60.7" y2="60.7" stroke="#000" stroke-width="1.9"/>
<line x1="443.5" x2="467.1" y1="61.4" y2="61.4" stroke="#000" stroke-width="1.9"/>
<line x1="467.1" x2="490.5" y1="66" y2="66" stroke="#000" stroke-width="1.9"/>
<line x1="490" x2="513.6" y1="53" y2="53" stroke="#000" stroke-width="1.9"/>
<rect x="89.6" y="378.5" width="116.1" height="85.3" fill="#d1d1d1"/>
<rect x="89.6" y="455.27" width="116.1" height="8.53" fill="#8f8f8f"/>
<line x1="89.6" x2="205.7" y1="446.74" y2="446.74" stroke="#a2a2a2" stroke-width="1.15"/>
<line x1="89.6" x2="205.7" y1="429.68" y2="429.68" stroke="#a2a2a2" stroke-width="1.15"/>
<line x1="89.6" x2="205.7" y1="412.62" y2="412.62" stroke="#a2a2a2" stroke-width="1.15"/>
<line x1="89.6" x2="205.7" y1="395.56" y2="395.56" stroke="#a2a2a2" stroke-width="1.15"/>
<line x1="89.6" x2="205.7" y1="361.44" y2="361.44" stroke="#cbcbcb" stroke-width="1.2"/>
<line x1="89.6" x2="205.7" y1="361.44" y2="361.44" stroke="#b4b4b4" stroke-width="1" stroke-dasharray="0.8 1.8"/>
<line x1="89.6" x2="205.7" y1="344.38" y2="344.38" stroke="#cbcbcb" stroke-width="1.2"/>
<line x1="89.6" x2="205.7" y1="344.38" y2="344.38" stroke="#b4b4b4" stroke-width="1" stroke-dasharray="0.8 1.8"/>
<line x1="89.6" x2="205.7" y1="327.32" y2="327.32" stroke="#cbcbcb" stroke-width="1.2"/>
<line x1="89.6" x2="205.7" y1="327.32" y2="327.32" stroke="#b4b4b4" stroke-width="1" stroke-dasharray="0.8 1.8"/>
<line x1="89.6" x2="205.7" y1="310.26" y2="310.26" stroke="#cbcbcb" stroke-width="1.2"/>
<line x1="89.6" x2="205.7" y1="310.26" y2="310.26" stroke="#b4b4b4" stroke-width="1" stroke-dasharray="0.8 1.8"/>
<line x1="89.6" x2="205.7" y1="293.2" y2="293.2" stroke="#cbcbcb" stroke-width="1.2"/>
<line x1="89.6" x2="205.7" y1="293.2" y2="293.2" stroke="#b4b4b4" stroke-width="1" stroke-dasharray="0.8 1.8"/>
<line x1="89.6" x2="205.7" y1="289.5" y2="289.5" stroke="#666" stroke-width="0.8"/>
<line x1="205.7" x2="205.7" y1="289.5" y2="463.8" stroke="#444" stroke-width="0.9"/>
<line x1="89.6" x2="205.7" y1="463.8" y2="463.8" stroke="#555" stroke-width="1"/>
<line x1="89.6" x2="89.6" y1="289.5" y2="464.3" stroke="#333" stroke-width="1.1"/>
<line x1="85.6" x2="89.6" y1="463.8" y2="463.8" stroke="#333" stroke-width="0.9"/>
<line x1="205.7" x2="208.3" y1="463.8" y2="463.8" stroke="#444" stroke-width="0.8"/>
<text x="85.7" y="466.55" class="tk">0</text>
<line x1="87.6" x2="89.6" y1="455.27" y2="455.27" stroke="#333" stroke-width="0.9"/>
<line x1="205.7" x2="206.9" y1="455.27" y2="455.27" stroke="#444" stroke-width="0.8"/>
<line x1="85.6" x2="89.6" y1="446.74" y2="446.74" stroke="#333" stroke-width="0.9"/>
<line x1="205.7" x2="208.3" y1="446.74" y2="446.74" stroke="#444" stroke-width="0.8"/>
<text x="85.7" y="449.49" class="tk">10</text>
<line x1="87.6" x2="89.6" y1="438.21" y2="438.21" stroke="#333" stroke-width="0.9"/>
<line x1="205.7" x2="206.9" y1="438.21" y2="438.21" stroke="#444" stroke-width="0.8"/>
<line x1="85.6" x2="89.6" y1="429.68" y2="429.68" stroke="#333" stroke-width="0.9"/>
<line x1="205.7" x2="208.3" y1="429.68" y2="429.68" stroke="#444" stroke-width="0.8"/>
<text x="85.7" y="432.43" class="tk">20</text>
<line x1="87.6" x2="89.6" y1="421.15" y2="421.15" stroke="#333" stroke-width="0.9"/>
<line x1="205.7" x2="206.9" y1="421.15" y2="421.15" stroke="#444" stroke-width="0.8"/>
<line x1="85.6" x2="89.6" y1="412.62" y2="412.62" stroke="#333" stroke-width="0.9"/>
<line x1="205.7" x2="208.3" y1="412.62" y2="412.62" stroke="#444" stroke-width="0.8"/>
<text x="85.7" y="415.37" class="tk">30</text>
<line x1="87.6" x2="89.6" y1="404.09" y2="404.09" stroke="#333" stroke-width="0.9"/>
<line x1="205.7" x2="206.9" y1="404.09" y2="404.09" stroke="#444" stroke-width="0.8"/>
<line x1="85.6" x2="89.6" y1="395.56" y2="395.56" stroke="#333" stroke-width="0.9"/>
<line x1="205.7" x2="208.3" y1="395.56" y2="395.56" stroke="#444" stroke-width="0.8"/>
<text x="85.7" y="398.31" class="tk">40</text>
<line x1="87.6" x2="89.6" y1="387.03" y2="387.03" stroke="#333" stroke-width="0.9"/>
<line x1="205.7" x2="206.9" y1="387.03" y2="387.03" stroke="#444" stroke-width="0.8"/>
<line x1="85.6" x2="89.6" y1="378.5" y2="378.5" stroke="#333" stroke-width="0.9"/>
<line x1="205.7" x2="208.3" y1="378.5" y2="378.5" stroke="#444" stroke-width="0.8"/>
<text x="85.7" y="381.25" class="tk">50</text>
<line x1="87.6" x2="89.6" y1="369.97" y2="369.97" stroke="#333" stroke-width="0.9"/>
<line x1="205.7" x2="206.9" y1="369.97" y2="369.97" stroke="#444" stroke-width="0.8"/>
<line x1="85.6" x2="89.6" y1="361.44" y2="361.44" stroke="#333" stroke-width="0.9"/>
<line x1="205.7" x2="208.3" y1="361.44" y2="361.44" stroke="#444" stroke-width="0.8"/>
<text x="85.7" y="364.19" class="tk">60</text>
<line x1="87.6" x2="89.6" y1="352.91" y2="352.91" stroke="#333" stroke-width="0.9"/>
<line x1="205.7" x2="206.9" y1="352.91" y2="352.91" stroke="#444" stroke-width="0.8"/>
<line x1="85.6" x2="89.6" y1="344.38" y2="344.38" stroke="#333" stroke-width="0.9"/>
<line x1="205.7" x2="208.3" y1="344.38" y2="344.38" stroke="#444" stroke-width="0.8"/>
<text x="85.7" y="347.13" class="tk">70</text>
<line x1="87.6" x2="89.6" y1="335.85" y2="335.85" stroke="#333" stroke-width="0.9"/>
<line x1="205.7" x2="206.9" y1="335.85" y2="335.85" stroke="#444" stroke-width="0.8"/>
<line x1="85.6" x2="89.6" y1="327.32" y2="327.32" stroke="#333" stroke-width="0.9"/>
<line x1="205.7" x2="208.3" y1="327.32" y2="327.32" stroke="#444" stroke-width="0.8"/>
<text x="85.7" y="330.07" class="tk">80</text>
<line x1="87.6" x2="89.6" y1="318.79" y2="318.79" stroke="#333" stroke-width="0.9"/>
<line x1="205.7" x2="206.9" y1="318.79" y2="318.79" stroke="#444" stroke-width="0.8"/>
<line x1="85.6" x2="89.6" y1="310.26" y2="310.26" stroke="#333" stroke-width="0.9"/>
<line x1="205.7" x2="208.3" y1="310.26" y2="310.26" stroke="#444" stroke-width="0.8"/>
<text x="85.7" y="313.01" class="tk">90</text>
<line x1="87.6" x2="89.6" y1="301.73" y2="301.73" stroke="#333" stroke-width="0.9"/>
<line x1="205.7" x2="206.9" y1="301.73" y2="301.73" stroke="#444" stroke-width="0.8"/>
<line x1="85.6" x2="89.6" y1="293.2" y2="293.2" stroke="#333" stroke-width="0.9"/>
<line x1="205.7" x2="208.3" y1="293.2" y2="293.2" stroke="#444" stroke-width="0.8"/>
<text x="85.7" y="295.95" class="tk">100</text>
<rect x="91.5" y="291.2" width="19" height="4.2" rx="2.1" fill="#1c1c1c"/>
<circle cx="95.4" cy="293.3" r="1.3" class="ws"/>
<circle cx="101" cy="293.3" r="1.3" class="ws"/>
<circle cx="106.6" cy="293.3" r="1.3" class="ws"/>
<circle cx="98.2" cy="293.3" r="1.0" class="gs"/>
<circle cx="103.8" cy="293.3" r="1.0" class="gs"/>
<circle cx="124" cy="293.3" r="1.65"/>
<rect x="137.8" y="291.2" width="18.9" height="4.2" rx="2.1" fill="#1c1c1c"/>
<circle cx="141.7" cy="293.3" r="1.3" class="ws"/>
<circle cx="147.25" cy="293.3" r="1.3" class="ws"/>
<circle cx="152.8" cy="293.3" r="1.3" class="ws"/>
<circle cx="144.48" cy="293.3" r="1.0" class="gs"/>
<circle cx="150.03" cy="293.3" r="1.0" class="gs"/>
<rect x="161.3" y="291.2" width="18.2" height="4.2" rx="2.1" fill="#1c1c1c"/>
<circle cx="165.2" cy="293.3" r="1.3" class="ws"/>
<circle cx="170.4" cy="293.3" r="1.3" class="ws"/>
<circle cx="175.6" cy="293.3" r="1.3" class="ws"/>
<circle cx="167.8" cy="293.3" r="1.0" class="gs"/>
<circle cx="173" cy="293.3" r="1.0" class="gs"/>
<rect x="183.7" y="291.2" width="20.2" height="4.2" rx="2.1" fill="#1c1c1c"/>
<circle cx="187.6" cy="293.3" r="1.3" class="ws"/>
<circle cx="193.8" cy="293.3" r="1.3" class="ws"/>
<circle cx="200" cy="293.3" r="1.3" class="ws"/>
<circle cx="190.7" cy="293.3" r="1.0" class="gs"/>
<circle cx="196.9" cy="293.3" r="1.0" class="gs"/>
<circle cx="95.5" cy="298.5" r="1.65"/>
<circle cx="100.7" cy="298.5" r="1.65"/>
<circle cx="105.9" cy="302" r="1.65"/>
<circle cx="100.7" cy="307.2" r="1.65"/>
<circle cx="100.5" cy="338.1" r="1.65"/>
<circle cx="100.6" cy="361.7" r="1.65"/>
<circle cx="124" cy="318.7" r="1.65"/>
<circle cx="123.8" cy="383.8" r="1.65"/>
<circle cx="147" cy="365.3" r="1.65"/>
<circle cx="147.3" cy="443.5" r="1.65"/>
<circle cx="164.9" cy="296.9" r="1.65"/>
<circle cx="168" cy="298.7" r="1.65"/>
<circle cx="164.9" cy="300.6" r="1.65"/>
<circle cx="173.2" cy="300" r="1.65"/>
<circle cx="170" cy="302" r="1.65"/>
<circle cx="175.7" cy="302" r="1.65"/>
<circle cx="164.9" cy="306" r="1.65"/>
<circle cx="164.9" cy="308.2" r="1.65"/>
<circle cx="175.7" cy="307.4" r="1.65"/>
<circle cx="170" cy="310.3" r="1.65"/>
<circle cx="164.9" cy="315.5" r="1.65"/>
<circle cx="175.7" cy="317" r="1.65"/>
<circle cx="170.2" cy="320.7" r="1.65"/>
<circle cx="164.9" cy="324" r="1.65"/>
<circle cx="175.5" cy="324" r="1.65"/>
<circle cx="164.9" cy="327.9" r="1.65"/>
<circle cx="170.2" cy="327.7" r="1.65"/>
<circle cx="175.4" cy="332.6" r="1.65"/>
<circle cx="170.2" cy="334.5" r="1.65"/>
<circle cx="175.4" cy="336.2" r="1.65"/>
<circle cx="164.9" cy="338" r="1.65"/>
<circle cx="170.2" cy="341" r="1.65"/>
<circle cx="170.2" cy="347.8" r="1.65"/>
<circle cx="164.9" cy="383.8" r="1.65"/>
<circle cx="170.4" cy="385.4" r="1.65"/>
<circle cx="170.4" cy="462" r="1.65"/>
<circle cx="188.2" cy="302" r="1.65"/>
<circle cx="198.8" cy="302" r="1.65"/>
<circle cx="193.5" cy="307.4" r="1.65"/>
<circle cx="193.3" cy="332.6" r="1.65"/>
<line x1="89.6" x2="111.7" y1="298.2" y2="298.2" stroke="#000" stroke-width="1.9"/>
<line x1="112.3" x2="135.4" y1="331.9" y2="331.9" stroke="#000" stroke-width="1.9"/>
<line x1="135" x2="158.5" y1="304.8" y2="304.8" stroke="#000" stroke-width="1.9"/>
<line x1="158.5" x2="181.5" y1="304.5" y2="304.5" stroke="#000" stroke-width="1.9"/>
<line x1="181.7" x2="205.4" y1="296.6" y2="296.6" stroke="#000" stroke-width="1.9"/>
<rect x="242.9" y="378.5" width="115.9" height="85.3" fill="#d1d1d1"/>
<rect x="242.9" y="455.27" width="115.9" height="8.53" fill="#8f8f8f"/>
<line x1="242.9" x2="358.8" y1="446.74" y2="446.74" stroke="#a2a2a2" stroke-width="1.15"/>
<line x1="242.9" x2="358.8" y1="429.68" y2="429.68" stroke="#a2a2a2" stroke-width="1.15"/>
<line x1="242.9" x2="358.8" y1="412.62" y2="412.62" stroke="#a2a2a2" stroke-width="1.15"/>
<line x1="242.9" x2="358.8" y1="395.56" y2="395.56" stroke="#a2a2a2" stroke-width="1.15"/>
<line x1="242.9" x2="358.8" y1="361.44" y2="361.44" stroke="#cbcbcb" stroke-width="1.2"/>
<line x1="242.9" x2="358.8" y1="361.44" y2="361.44" stroke="#b4b4b4" stroke-width="1" stroke-dasharray="0.8 1.8"/>
<line x1="242.9" x2="358.8" y1="344.38" y2="344.38" stroke="#cbcbcb" stroke-width="1.2"/>
<line x1="242.9" x2="358.8" y1="344.38" y2="344.38" stroke="#b4b4b4" stroke-width="1" stroke-dasharray="0.8 1.8"/>
<line x1="242.9" x2="358.8" y1="327.32" y2="327.32" stroke="#cbcbcb" stroke-width="1.2"/>
<line x1="242.9" x2="358.8" y1="327.32" y2="327.32" stroke="#b4b4b4" stroke-width="1" stroke-dasharray="0.8 1.8"/>
<line x1="242.9" x2="358.8" y1="310.26" y2="310.26" stroke="#cbcbcb" stroke-width="1.2"/>
<line x1="242.9" x2="358.8" y1="310.26" y2="310.26" stroke="#b4b4b4" stroke-width="1" stroke-dasharray="0.8 1.8"/>
<line x1="242.9" x2="358.8" y1="293.2" y2="293.2" stroke="#cbcbcb" stroke-width="1.2"/>
<line x1="242.9" x2="358.8" y1="293.2" y2="293.2" stroke="#b4b4b4" stroke-width="1" stroke-dasharray="0.8 1.8"/>
<line x1="242.9" x2="358.8" y1="289.5" y2="289.5" stroke="#666" stroke-width="0.8"/>
<line x1="358.8" x2="358.8" y1="289.5" y2="463.8" stroke="#444" stroke-width="0.9"/>
<line x1="242.9" x2="358.8" y1="463.8" y2="463.8" stroke="#555" stroke-width="1"/>
<line x1="242.9" x2="242.9" y1="289.5" y2="464.3" stroke="#333" stroke-width="1.1"/>
<line x1="238.9" x2="242.9" y1="463.8" y2="463.8" stroke="#333" stroke-width="0.9"/>
<line x1="358.8" x2="361.4" y1="463.8" y2="463.8" stroke="#444" stroke-width="0.8"/>
<text x="239" y="466.55" class="tk">0</text>
<line x1="240.9" x2="242.9" y1="455.27" y2="455.27" stroke="#333" stroke-width="0.9"/>
<line x1="358.8" x2="360" y1="455.27" y2="455.27" stroke="#444" stroke-width="0.8"/>
<line x1="238.9" x2="242.9" y1="446.74" y2="446.74" stroke="#333" stroke-width="0.9"/>
<line x1="358.8" x2="361.4" y1="446.74" y2="446.74" stroke="#444" stroke-width="0.8"/>
<text x="239" y="449.49" class="tk">10</text>
<line x1="240.9" x2="242.9" y1="438.21" y2="438.21" stroke="#333" stroke-width="0.9"/>
<line x1="358.8" x2="360" y1="438.21" y2="438.21" stroke="#444" stroke-width="0.8"/>
<line x1="238.9" x2="242.9" y1="429.68" y2="429.68" stroke="#333" stroke-width="0.9"/>
<line x1="358.8" x2="361.4" y1="429.68" y2="429.68" stroke="#444" stroke-width="0.8"/>
<text x="239" y="432.43" class="tk">20</text>
<line x1="240.9" x2="242.9" y1="421.15" y2="421.15" stroke="#333" stroke-width="0.9"/>
<line x1="358.8" x2="360" y1="421.15" y2="421.15" stroke="#444" stroke-width="0.8"/>
<line x1="238.9" x2="242.9" y1="412.62" y2="412.62" stroke="#333" stroke-width="0.9"/>
<line x1="358.8" x2="361.4" y1="412.62" y2="412.62" stroke="#444" stroke-width="0.8"/>
<text x="239" y="415.37" class="tk">30</text>
<line x1="240.9" x2="242.9" y1="404.09" y2="404.09" stroke="#333" stroke-width="0.9"/>
<line x1="358.8" x2="360" y1="404.09" y2="404.09" stroke="#444" stroke-width="0.8"/>
<line x1="238.9" x2="242.9" y1="395.56" y2="395.56" stroke="#333" stroke-width="0.9"/>
<line x1="358.8" x2="361.4" y1="395.56" y2="395.56" stroke="#444" stroke-width="0.8"/>
<text x="239" y="398.31" class="tk">40</text>
<line x1="240.9" x2="242.9" y1="387.03" y2="387.03" stroke="#333" stroke-width="0.9"/>
<line x1="358.8" x2="360" y1="387.03" y2="387.03" stroke="#444" stroke-width="0.8"/>
<line x1="238.9" x2="242.9" y1="378.5" y2="378.5" stroke="#333" stroke-width="0.9"/>
<line x1="358.8" x2="361.4" y1="378.5" y2="378.5" stroke="#444" stroke-width="0.8"/>
<text x="239" y="381.25" class="tk">50</text>
<line x1="240.9" x2="242.9" y1="369.97" y2="369.97" stroke="#333" stroke-width="0.9"/>
<line x1="358.8" x2="360" y1="369.97" y2="369.97" stroke="#444" stroke-width="0.8"/>
<line x1="238.9" x2="242.9" y1="361.44" y2="361.44" stroke="#333" stroke-width="0.9"/>
<line x1="358.8" x2="361.4" y1="361.44" y2="361.44" stroke="#444" stroke-width="0.8"/>
<text x="239" y="364.19" class="tk">60</text>
<line x1="240.9" x2="242.9" y1="352.91" y2="352.91" stroke="#333" stroke-width="0.9"/>
<line x1="358.8" x2="360" y1="352.91" y2="352.91" stroke="#444" stroke-width="0.8"/>
<line x1="238.9" x2="242.9" y1="344.38" y2="344.38" stroke="#333" stroke-width="0.9"/>
<line x1="358.8" x2="361.4" y1="344.38" y2="344.38" stroke="#444" stroke-width="0.8"/>
<text x="239" y="347.13" class="tk">70</text>
<line x1="240.9" x2="242.9" y1="335.85" y2="335.85" stroke="#333" stroke-width="0.9"/>
<line x1="358.8" x2="360" y1="335.85" y2="335.85" stroke="#444" stroke-width="0.8"/>
<line x1="238.9" x2="242.9" y1="327.32" y2="327.32" stroke="#333" stroke-width="0.9"/>
<line x1="358.8" x2="361.4" y1="327.32" y2="327.32" stroke="#444" stroke-width="0.8"/>
<text x="239" y="330.07" class="tk">80</text>
<line x1="240.9" x2="242.9" y1="318.79" y2="318.79" stroke="#333" stroke-width="0.9"/>
<line x1="358.8" x2="360" y1="318.79" y2="318.79" stroke="#444" stroke-width="0.8"/>
<line x1="238.9" x2="242.9" y1="310.26" y2="310.26" stroke="#333" stroke-width="0.9"/>
<line x1="358.8" x2="361.4" y1="310.26" y2="310.26" stroke="#444" stroke-width="0.8"/>
<text x="239" y="313.01" class="tk">90</text>
<line x1="240.9" x2="242.9" y1="301.73" y2="301.73" stroke="#333" stroke-width="0.9"/>
<line x1="358.8" x2="360" y1="301.73" y2="301.73" stroke="#444" stroke-width="0.8"/>
<line x1="238.9" x2="242.9" y1="293.2" y2="293.2" stroke="#333" stroke-width="0.9"/>
<line x1="358.8" x2="361.4" y1="293.2" y2="293.2" stroke="#444" stroke-width="0.8"/>
<text x="239" y="295.95" class="tk">100</text>
<rect x="245.2" y="290.9" width="19" height="4.2" rx="2.1" fill="#1c1c1c"/>
<circle cx="249.1" cy="293" r="1.3" class="ws"/>
<circle cx="254.7" cy="293" r="1.3" class="ws"/>
<circle cx="260.3" cy="293" r="1.3" class="ws"/>
<circle cx="251.9" cy="293" r="1.0" class="gs"/>
<circle cx="257.5" cy="293" r="1.0" class="gs"/>
<circle cx="277.8" cy="293" r="1.65"/>
<rect x="292.1" y="290.9" width="19" height="4.2" rx="2.1" fill="#1c1c1c"/>
<circle cx="296" cy="293" r="1.3" class="ws"/>
<circle cx="301.6" cy="293" r="1.3" class="ws"/>
<circle cx="307.2" cy="293" r="1.3" class="ws"/>
<circle cx="298.8" cy="293" r="1.0" class="gs"/>
<circle cx="304.4" cy="293" r="1.0" class="gs"/>
<rect x="314.9" y="290.9" width="19.7" height="4.2" rx="2.1" fill="#1c1c1c"/>
<circle cx="318.8" cy="293" r="1.3" class="ws"/>
<circle cx="324.75" cy="293" r="1.3" class="ws"/>
<circle cx="330.7" cy="293" r="1.3" class="ws"/>
<circle cx="321.77" cy="293" r="1.0" class="gs"/>
<circle cx="327.73" cy="293" r="1.0" class="gs"/>
<rect x="338" y="290.9" width="19.4" height="4.2" rx="2.1" fill="#1c1c1c"/>
<circle cx="341.9" cy="293" r="1.3" class="ws"/>
<circle cx="347.7" cy="293" r="1.3" class="ws"/>
<circle cx="353.5" cy="293" r="1.3" class="ws"/>
<circle cx="344.8" cy="293" r="1.0" class="gs"/>
<circle cx="350.6" cy="293" r="1.0" class="gs"/>
<circle cx="249.5" cy="297.5" r="1.65"/>
<circle cx="257.9" cy="297.5" r="1.65"/>
<circle cx="254.8" cy="301.9" r="1.65"/>
<circle cx="260.2" cy="299.8" r="1.65"/>
<circle cx="249.7" cy="335.7" r="1.65"/>
<circle cx="255" cy="337.3" r="1.65"/>
<circle cx="255" cy="370.8" r="1.65"/>
<circle cx="278.1" cy="357.6" r="1.65"/>
<circle cx="278.1" cy="417.5" r="1.65"/>
<circle cx="301.2" cy="446.4" r="1.65"/>
<circle cx="301.2" cy="461.4" r="1.65"/>
<circle cx="319.1" cy="295.1" r="1.65"/>
<circle cx="324.4" cy="297.9" r="1.65"/>
<circle cx="329.7" cy="297.9" r="1.65"/>
<circle cx="324.4" cy="305" r="1.65"/>
<circle cx="324.4" cy="313.3" r="1.65"/>
<circle cx="329.7" cy="313.3" r="1.65"/>
<circle cx="324.4" cy="323.3" r="1.65"/>
<circle cx="321.9" cy="326.8" r="1.65"/>
<circle cx="318.9" cy="328.9" r="1.65"/>
<circle cx="327.3" cy="328.3" r="1.65"/>
<circle cx="329.9" cy="330.7" r="1.65"/>
<circle cx="324.1" cy="332.4" r="1.65"/>
<circle cx="324.1" cy="344" r="1.65"/>
<circle cx="324.1" cy="359.8" r="1.65"/>
<circle cx="329.9" cy="357.7" r="1.65"/>
<circle cx="324.1" cy="367.5" r="1.65"/>
<circle cx="329.9" cy="371.2" r="1.65"/>
<circle cx="324.1" cy="374.6" r="1.65"/>
<circle cx="324.7" cy="392.2" r="1.65"/>
<circle cx="324.7" cy="415.7" r="1.65"/>
<circle cx="330" cy="414.1" r="1.65"/>
<circle cx="324.7" cy="429.1" r="1.65"/>
<circle cx="324.7" cy="444.8" r="1.65"/>
<circle cx="324.7" cy="451.7" r="1.65"/>
<circle cx="330" cy="456.3" r="1.65"/>
<circle cx="324.7" cy="461.4" r="1.65"/>
<circle cx="347.5" cy="306.7" r="1.65"/>
<circle cx="342.2" cy="318.4" r="1.65"/>
<circle cx="347.5" cy="318.4" r="1.65"/>
<circle cx="352.8" cy="318.4" r="1.65"/>
<line x1="242.9" x2="266" y1="299.8" y2="299.8" stroke="#000" stroke-width="1.9"/>
<line x1="265.4" x2="289.6" y1="355.8" y2="355.8" stroke="#000" stroke-width="1.9"/>
<line x1="288.2" x2="313.1" y1="309.6" y2="309.6" stroke="#000" stroke-width="1.9"/>
<line x1="312" x2="335.8" y1="316.4" y2="316.4" stroke="#000" stroke-width="1.9"/>
<line x1="335.3" x2="358.6" y1="296.7" y2="296.7" stroke="#000" stroke-width="1.9"/>
<rect x="397.6" y="378.5" width="116" height="85.3" fill="#d1d1d1"/>
<rect x="397.6" y="455.27" width="116" height="8.53" fill="#8f8f8f"/>
<line x1="397.6" x2="513.6" y1="446.74" y2="446.74" stroke="#a2a2a2" stroke-width="1.15"/>
<line x1="397.6" x2="513.6" y1="429.68" y2="429.68" stroke="#a2a2a2" stroke-width="1.15"/>
<line x1="397.6" x2="513.6" y1="412.62" y2="412.62" stroke="#a2a2a2" stroke-width="1.15"/>
<line x1="397.6" x2="513.6" y1="395.56" y2="395.56" stroke="#a2a2a2" stroke-width="1.15"/>
<line x1="397.6" x2="513.6" y1="361.44" y2="361.44" stroke="#cbcbcb" stroke-width="1.2"/>
<line x1="397.6" x2="513.6" y1="361.44" y2="361.44" stroke="#b4b4b4" stroke-width="1" stroke-dasharray="0.8 1.8"/>
<line x1="397.6" x2="513.6" y1="344.38" y2="344.38" stroke="#cbcbcb" stroke-width="1.2"/>
<line x1="397.6" x2="513.6" y1="344.38" y2="344.38" stroke="#b4b4b4" stroke-width="1" stroke-dasharray="0.8 1.8"/>
<line x1="397.6" x2="513.6" y1="327.32" y2="327.32" stroke="#cbcbcb" stroke-width="1.2"/>
<line x1="397.6" x2="513.6" y1="327.32" y2="327.32" stroke="#b4b4b4" stroke-width="1" stroke-dasharray="0.8 1.8"/>
<line x1="397.6" x2="513.6" y1="310.26" y2="310.26" stroke="#cbcbcb" stroke-width="1.2"/>
<line x1="397.6" x2="513.6" y1="310.26" y2="310.26" stroke="#b4b4b4" stroke-width="1" stroke-dasharray="0.8 1.8"/>
<line x1="397.6" x2="513.6" y1="293.2" y2="293.2" stroke="#cbcbcb" stroke-width="1.2"/>
<line x1="397.6" x2="513.6" y1="293.2" y2="293.2" stroke="#b4b4b4" stroke-width="1" stroke-dasharray="0.8 1.8"/>
<line x1="397.6" x2="513.6" y1="289.5" y2="289.5" stroke="#666" stroke-width="0.8"/>
<line x1="513.6" x2="513.6" y1="289.5" y2="463.8" stroke="#444" stroke-width="0.9"/>
<line x1="397.6" x2="513.6" y1="463.8" y2="463.8" stroke="#555" stroke-width="1"/>
<line x1="397.6" x2="397.6" y1="289.5" y2="464.3" stroke="#333" stroke-width="1.1"/>
<line x1="393.6" x2="397.6" y1="463.8" y2="463.8" stroke="#333" stroke-width="0.9"/>
<line x1="513.6" x2="516.2" y1="463.8" y2="463.8" stroke="#444" stroke-width="0.8"/>
<text x="393.7" y="466.55" class="tk">0</text>
<line x1="395.6" x2="397.6" y1="455.27" y2="455.27" stroke="#333" stroke-width="0.9"/>
<line x1="513.6" x2="514.8" y1="455.27" y2="455.27" stroke="#444" stroke-width="0.8"/>
<line x1="393.6" x2="397.6" y1="446.74" y2="446.74" stroke="#333" stroke-width="0.9"/>
<line x1="513.6" x2="516.2" y1="446.74" y2="446.74" stroke="#444" stroke-width="0.8"/>
<text x="393.7" y="449.49" class="tk">10</text>
<line x1="395.6" x2="397.6" y1="438.21" y2="438.21" stroke="#333" stroke-width="0.9"/>
<line x1="513.6" x2="514.8" y1="438.21" y2="438.21" stroke="#444" stroke-width="0.8"/>
<line x1="393.6" x2="397.6" y1="429.68" y2="429.68" stroke="#333" stroke-width="0.9"/>
<line x1="513.6" x2="516.2" y1="429.68" y2="429.68" stroke="#444" stroke-width="0.8"/>
<text x="393.7" y="432.43" class="tk">20</text>
<line x1="395.6" x2="397.6" y1="421.15" y2="421.15" stroke="#333" stroke-width="0.9"/>
<line x1="513.6" x2="514.8" y1="421.15" y2="421.15" stroke="#444" stroke-width="0.8"/>
<line x1="393.6" x2="397.6" y1="412.62" y2="412.62" stroke="#333" stroke-width="0.9"/>
<line x1="513.6" x2="516.2" y1="412.62" y2="412.62" stroke="#444" stroke-width="0.8"/>
<text x="393.7" y="415.37" class="tk">30</text>
<line x1="395.6" x2="397.6" y1="404.09" y2="404.09" stroke="#333" stroke-width="0.9"/>
<line x1="513.6" x2="514.8" y1="404.09" y2="404.09" stroke="#444" stroke-width="0.8"/>
<line x1="393.6" x2="397.6" y1="395.56" y2="395.56" stroke="#333" stroke-width="0.9"/>
<line x1="513.6" x2="516.2" y1="395.56" y2="395.56" stroke="#444" stroke-width="0.8"/>
<text x="393.7" y="398.31" class="tk">40</text>
<line x1="395.6" x2="397.6" y1="387.03" y2="387.03" stroke="#333" stroke-width="0.9"/>
<line x1="513.6" x2="514.8" y1="387.03" y2="387.03" stroke="#444" stroke-width="0.8"/>
<line x1="393.6" x2="397.6" y1="378.5" y2="378.5" stroke="#333" stroke-width="0.9"/>
<line x1="513.6" x2="516.2" y1="378.5" y2="378.5" stroke="#444" stroke-width="0.8"/>
<text x="393.7" y="381.25" class="tk">50</text>
<line x1="395.6" x2="397.6" y1="369.97" y2="369.97" stroke="#333" stroke-width="0.9"/>
<line x1="513.6" x2="514.8" y1="369.97" y2="369.97" stroke="#444" stroke-width="0.8"/>
<line x1="393.6" x2="397.6" y1="361.44" y2="361.44" stroke="#333" stroke-width="0.9"/>
<line x1="513.6" x2="516.2" y1="361.44" y2="361.44" stroke="#444" stroke-width="0.8"/>
<text x="393.7" y="364.19" class="tk">60</text>
<line x1="395.6" x2="397.6" y1="352.91" y2="352.91" stroke="#333" stroke-width="0.9"/>
<line x1="513.6" x2="514.8" y1="352.91" y2="352.91" stroke="#444" stroke-width="0.8"/>
<line x1="393.6" x2="397.6" y1="344.38" y2="344.38" stroke="#333" stroke-width="0.9"/>
<line x1="513.6" x2="516.2" y1="344.38" y2="344.38" stroke="#444" stroke-width="0.8"/>
<text x="393.7" y="347.13" class="tk">70</text>
<line x1="395.6" x2="397.6" y1="335.85" y2="335.85" stroke="#333" stroke-width="0.9"/>
<line x1="513.6" x2="514.8" y1="335.85" y2="335.85" stroke="#444" stroke-width="0.8"/>
<line x1="393.6" x2="397.6" y1="327.32" y2="327.32" stroke="#333" stroke-width="0.9"/>
<line x1="513.6" x2="516.2" y1="327.32" y2="327.32" stroke="#444" stroke-width="0.8"/>
<text x="393.7" y="330.07" class="tk">80</text>
<line x1="395.6" x2="397.6" y1="318.79" y2="318.79" stroke="#333" stroke-width="0.9"/>
<line x1="513.6" x2="514.8" y1="318.79" y2="318.79" stroke="#444" stroke-width="0.8"/>
<line x1="393.6" x2="397.6" y1="310.26" y2="310.26" stroke="#333" stroke-width="0.9"/>
<line x1="513.6" x2="516.2" y1="310.26" y2="310.26" stroke="#444" stroke-width="0.8"/>
<text x="393.7" y="313.01" class="tk">90</text>
<line x1="395.6" x2="397.6" y1="301.73" y2="301.73" stroke="#333" stroke-width="0.9"/>
<line x1="513.6" x2="514.8" y1="301.73" y2="301.73" stroke="#444" stroke-width="0.8"/>
<line x1="393.6" x2="397.6" y1="293.2" y2="293.2" stroke="#333" stroke-width="0.9"/>
<line x1="513.6" x2="516.2" y1="293.2" y2="293.2" stroke="#444" stroke-width="0.8"/>
<text x="393.7" y="295.95" class="tk">100</text>
<rect x="400.1" y="290.9" width="19.8" height="4.2" rx="2.1" fill="#1c1c1c"/>
<circle cx="404" cy="293" r="1.3" class="ws"/>
<circle cx="410" cy="293" r="1.3" class="ws"/>
<circle cx="416" cy="293" r="1.3" class="ws"/>
<circle cx="407" cy="293" r="1.0" class="gs"/>
<circle cx="413" cy="293" r="1.0" class="gs"/>
<circle cx="432.9" cy="293" r="1.65"/>
<rect x="446.7" y="290.9" width="19" height="4.2" rx="2.1" fill="#1c1c1c"/>
<circle cx="450.6" cy="293" r="1.3" class="ws"/>
<circle cx="456.2" cy="293" r="1.3" class="ws"/>
<circle cx="461.8" cy="293" r="1.3" class="ws"/>
<circle cx="453.4" cy="293" r="1.0" class="gs"/>
<circle cx="459" cy="293" r="1.0" class="gs"/>
<rect x="469.6" y="290.9" width="19.8" height="4.2" rx="2.1" fill="#1c1c1c"/>
<circle cx="473.5" cy="293" r="1.3" class="ws"/>
<circle cx="479.5" cy="293" r="1.3" class="ws"/>
<circle cx="485.5" cy="293" r="1.3" class="ws"/>
<circle cx="476.5" cy="293" r="1.0" class="gs"/>
<circle cx="482.5" cy="293" r="1.0" class="gs"/>
<rect x="493" y="290.9" width="19" height="4.2" rx="2.1" fill="#1c1c1c"/>
<circle cx="496.9" cy="293" r="1.3" class="ws"/>
<circle cx="502.5" cy="293" r="1.3" class="ws"/>
<circle cx="508.1" cy="293" r="1.3" class="ws"/>
<circle cx="499.7" cy="293" r="1.0" class="gs"/>
<circle cx="505.3" cy="293" r="1.0" class="gs"/>
<circle cx="404.5" cy="296.3" r="1.65"/>
<circle cx="409.6" cy="295.1" r="1.65"/>
<circle cx="414.8" cy="295.1" r="1.65"/>
<circle cx="409.6" cy="301.8" r="1.65"/>
<circle cx="409.7" cy="377.9" r="1.65"/>
<circle cx="409.8" cy="393.8" r="1.65"/>
<circle cx="414.9" cy="437.8" r="1.65"/>
<circle cx="409.8" cy="441.5" r="1.65"/>
<circle cx="427.4" cy="385" r="1.65"/>
<circle cx="432.7" cy="387" r="1.65"/>
<circle cx="432.7" cy="437.8" r="1.65"/>
<circle cx="456" cy="318.4" r="1.65"/>
<circle cx="456" cy="435.9" r="1.65"/>
<circle cx="474" cy="296.4" r="1.65"/>
<circle cx="479.1" cy="296.7" r="1.65"/>
<circle cx="474" cy="300.1" r="1.65"/>
<circle cx="484.2" cy="301.7" r="1.65"/>
<circle cx="479.1" cy="305" r="1.65"/>
<circle cx="474" cy="318.4" r="1.65"/>
<circle cx="479.1" cy="318.4" r="1.65"/>
<circle cx="479.7" cy="326.9" r="1.65"/>
<circle cx="479.7" cy="340.3" r="1.65"/>
<circle cx="479.2" cy="352.3" r="1.65"/>
<circle cx="484.5" cy="352.3" r="1.65"/>
<circle cx="479.2" cy="369.2" r="1.65"/>
<circle cx="474.2" cy="382.9" r="1.65"/>
<circle cx="479.3" cy="388.3" r="1.65"/>
<circle cx="484.4" cy="388.3" r="1.65"/>
<circle cx="479.3" cy="395.2" r="1.65"/>
<circle cx="479.3" cy="401.8" r="1.65"/>
<circle cx="474" cy="428.9" r="1.65"/>
<circle cx="479.3" cy="428.9" r="1.65"/>
<circle cx="484.4" cy="437.8" r="1.65"/>
<circle cx="479.3" cy="443" r="1.65"/>
<circle cx="479.3" cy="449.7" r="1.65"/>
<circle cx="472" cy="461.6" r="1.65"/>
<circle cx="475" cy="461.6" r="1.65"/>
<circle cx="478" cy="461.6" r="1.65"/>
<circle cx="481" cy="461.6" r="1.65"/>
<circle cx="484" cy="461.6" r="1.65"/>
<circle cx="487" cy="461.6" r="1.65"/>
<circle cx="502.5" cy="318.4" r="1.65"/>
<circle cx="507.7" cy="318.4" r="1.65"/>
<circle cx="502.3" cy="343.8" r="1.65"/>
<circle cx="502.2" cy="437.8" r="1.65"/>
<line x1="397.6" x2="421.1" y1="309.6" y2="309.6" stroke="#000" stroke-width="1.9"/>
<line x1="420.4" x2="444.2" y1="375.4" y2="375.4" stroke="#000" stroke-width="1.9"/>
<line x1="443.2" x2="467.3" y1="302.6" y2="302.6" stroke="#000" stroke-width="1.9"/>
<line x1="467" x2="490.1" y1="328.1" y2="328.1" stroke="#000" stroke-width="1.9"/>
<line x1="489.9" x2="513.6" y1="304.4" y2="304.4" stroke="#000" stroke-width="1.9"/>
<text x="109.0" y="12.3" class="ti">T lymphocytes</text>
<text x="261.0" y="12.3" class="ti">B lymphocytes</text>
<text x="420.6" y="12.3" class="ti">Myeloid cells</text>
<text x="108.8" y="272.1" class="ti">T lymphocytes</text>
<text x="261.0" y="272.1" class="ti">B lymphocytes</text>
<text x="420.6" y="272.1" class="ti">Myeloid cells</text>
<text x="27.3" y="23.5" class="big">A</text>
<text x="30.0" y="282.7" class="big">B</text>
<text transform="translate(65.4,114.2) rotate(-90)" class="yr">Donor cell chimerism (%)</text>
<text transform="translate(64.9,375.4) rotate(-90)" class="yr">Donor cell chimerism (%)</text>
<text x="37" y="212.3" class="yl">Months of FU</text>
<text x="37" y="223.6" class="yl">(N. of patients)</text>
<text x="39.1" y="471.8" class="yl">Transplant type</text>
<text x="38.6" y="482.8" class="yl">(N. of patients)</text>
<text transform="translate(108.81,210.5) rotate(-41.5)" class="xl">12-23m (32)</text>
<text transform="translate(132.03,210.5) rotate(-41.5)" class="xl">24-35m (24)</text>
<text transform="translate(155.25,210.5) rotate(-41.5)" class="xl">36-59m (24)</text>
<text transform="translate(178.47,210.5) rotate(-41.5)" class="xl">60-119m (43)</text>
<text transform="translate(201.69,210.5) rotate(-41.5)" class="xl">&gt;120m (30)</text>
<text transform="translate(261.01,210.5) rotate(-41.5)" class="xl">12-23m (30)</text>
<text transform="translate(284.23,210.5) rotate(-41.5)" class="xl">24-35m (23)</text>
<text transform="translate(307.45,210.5) rotate(-41.5)" class="xl">36-59m (23)</text>
<text transform="translate(330.67,210.5) rotate(-41.5)" class="xl">60-119m (42)</text>
<text transform="translate(353.89,210.5) rotate(-41.5)" class="xl">&gt;120m (29)</text>
<text transform="translate(416.11,210.5) rotate(-41.5)" class="xl">12-23m (32)</text>
<text transform="translate(439.33,210.5) rotate(-41.5)" class="xl">24-35m (21)</text>
<text transform="translate(462.55,210.5) rotate(-41.5)" class="xl">36-59m (23)</text>
<text transform="translate(485.77,210.5) rotate(-41.5)" class="xl">60-119m (43)</text>
<text transform="translate(508.99,210.5) rotate(-41.5)" class="xl">&gt;120m (30)</text>
<text transform="translate(105.11,471.7) rotate(-42)" class="xl">MSD (29)</text>
<text transform="translate(128.33,471.7) rotate(-42)" class="xl">MFD (3)</text>
<text transform="translate(151.55,471.7) rotate(-42)" class="xl">MMFD (19)</text>
<text transform="translate(174.77,471.7) rotate(-42)" class="xl">URD (81)</text>
<text transform="translate(197.99,471.7) rotate(-42)" class="xl">UCB (21)</text>
<text transform="translate(258.39,471.7) rotate(-42)" class="xl">MSD (27)</text>
<text transform="translate(281.57,471.7) rotate(-42)" class="xl">MFD (3)</text>
<text transform="translate(304.75,471.7) rotate(-42)" class="xl">MMFD (19)</text>
<text transform="translate(327.93,471.7) rotate(-42)" class="xl">URD (77)</text>
<text transform="translate(351.11,471.7) rotate(-42)" class="xl">UCB (21)</text>
<text transform="translate(413.1,471.7) rotate(-42)" class="xl">MSD (29)</text>
<text transform="translate(436.3,471.7) rotate(-42)" class="xl">MFD (4)</text>
<text transform="translate(459.5,471.7) rotate(-42)" class="xl">MMFD (17)</text>
<text transform="translate(482.7,471.7) rotate(-42)" class="xl">URD (78)</text>
<text transform="translate(505.9,471.7) rotate(-42)" class="xl">UCB (21)</text>
<path d="M456.9 287.4 V283.8 H479.4 V287.4" fill="none" stroke="#000" stroke-width="1.3"/>
<polygon points="468.90,274.90 469.69,277.11 472.04,277.18 470.18,278.62 470.84,280.87 468.90,279.55 466.96,280.87 467.62,278.62 465.76,277.18 468.11,277.11" fill="#111"/>
</svg>
</body></html>
